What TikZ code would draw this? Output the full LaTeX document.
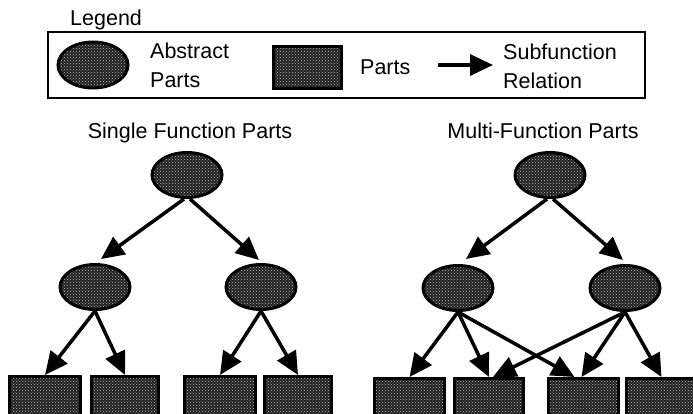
\documentclass[tikz,border=0pt]{standalone}
\usepackage{fontspec}
\setmainfont{Liberation Sans}
\usetikzlibrary{arrows.meta,shapes.geometric,calc,patterns}
\begin{document}
\begin{tikzpicture}[x=1pt,y=-1pt,
  grain/.style={preaction={fill=black!88}, pattern=crosshatch dots, pattern color=black!25},
  abstractpart/.style={ellipse, draw=black, line width=3pt, grain,
    minimum width=70pt, minimum height=45pt, inner sep=0pt},
  concretepart/.style={rectangle, draw=black, line width=3pt, grain,
    minimum height=44pt, inner sep=0pt, anchor=north west},
  conn/.style={line width=3.5pt, -{Triangle[length=23pt,width=21pt]}},
  lbl/.style={font=\fontsize{21.5}{29}\selectfont, inner sep=0pt, anchor=base west},
  ttl/.style={font=\fontsize{21.5}{29}\selectfont, inner sep=0pt, anchor=base}]
\useasboundingbox (0,0) rectangle (693,413);
\clip (0,0) rectangle (693,413);

% ---- legend ----
\node[lbl] (legendtitle) at (70,25) {Legend};
\draw[line width=2pt] (48,32) rectangle (645,98);
\node[abstractpart, minimum width=70pt, minimum height=46pt] (legA) at (93,65) {};
\node[lbl] (absA) at (150,58) {Abstract};
\node[lbl] (absB) at (150,87) {Parts};
\node[concretepart, minimum width=68pt, minimum height=42pt] (legP) at (272,45) {};
\node[lbl] (partsT) at (360,74) {Parts};
\coordinate (legArrA) at (438,65);
\coordinate (legArrB) at (493,65);
\draw[conn] (legArrA) -- (legArrB);
\node[lbl] (subA) at (503,59) {Subfunction};
\node[lbl] (subB) at (503,88) {Relation};

% ---- single function parts ----
\node[ttl] (ttlS) at (190,138) {Single Function Parts};
\node[abstractpart] (T1) at (187,175) {};
\node[abstractpart] (L1) at (95,287) {};
\node[abstractpart] (R1) at (261,287) {};
\node[concretepart, minimum width=71pt] (b1) at (8,375) {};
\node[concretepart, minimum width=67pt] (b2) at (90,375) {};
\node[concretepart, minimum width=71pt] (b3) at (183,375) {};
\node[concretepart, minimum width=67pt] (b4) at (263,375) {};

\draw[conn] ($(T1.south)+(-3,0)$) -- ($(L1.north)+(6,-4)$);
\draw[conn] ($(T1.south)+(3,0)$) -- ($(R1.north)+(-2,-3)$);
\draw[conn] (L1.south) -- (b1.north);
\draw[conn] (L1.south) -- (b2.north);
\draw[conn] (R1.south) -- (b3.north);
\draw[conn] (R1.south) -- (b4.north);

% ---- multi-function parts ----
\node[ttl] (ttlM) at (543,138) {Multi-Function Parts};
\node[abstractpart] (T2) at (550,175) {};
\node[abstractpart] (L2) at (458,288) {};
\node[abstractpart] (R2) at (625,288) {};
\node[concretepart, minimum width=70pt] (c1) at (373,377) {};
\node[concretepart, minimum width=69pt] (c2) at (453,377) {};
\node[concretepart, minimum width=70pt] (c3) at (547,377) {};
\node[concretepart, minimum width=70pt] (c4) at (625,377) {};

\draw[conn] ($(T2.south)+(-3,0)$) -- ($(L2.north)+(8,-5)$);
\draw[conn] ($(T2.south)+(3,0)$) -- ($(R2.north)+(-2,-4)$);
\draw[conn] (L2.south) -- (c1.north);
\draw[conn] (L2.south) -- (c2.north);
\draw[conn] (L2.south) -- ($(c3.north)+(-9,0)$);
\draw[conn] (R2.south) -- ($(c2.north)+(4,0)$);
\draw[conn] (R2.south) -- ($(c3.north)+(-2,0)$);
\draw[conn] (R2.south) -- (c4.north);
\end{tikzpicture}
\end{document}
